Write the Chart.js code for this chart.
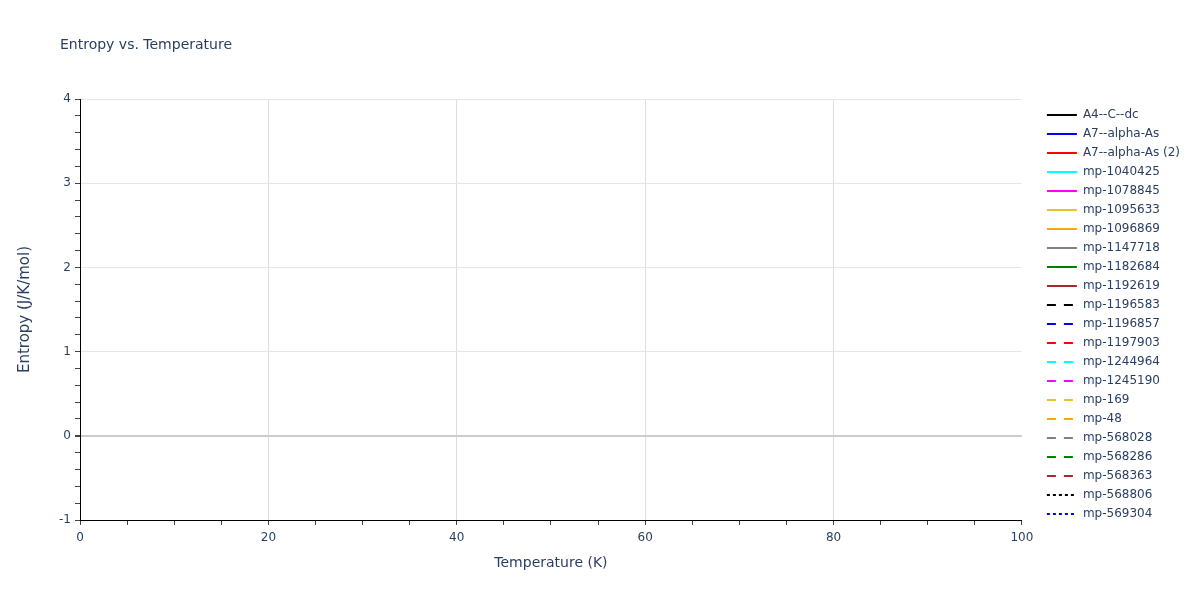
<!DOCTYPE html>
<html>
<head>
<meta charset="utf-8">
<script src="https://cdn.jsdelivr.net/npm/chart.js@4.4.1/dist/chart.umd.min.js"></script>
<style>
  html, body { margin: 0; padding: 0; background: #fff; }
  #wrap { width: 1200px; height: 600px; }
</style>
</head>
<body>
<div id="wrap"><canvas id="entropyChart"></canvas></div>
<script>
// series names, in legend order
const seriesNames = [
  'A4--C--dc', 'A7--alpha-As', 'A7--alpha-As (2)', 'mp-1040425', 'mp-1078845',
  'mp-1095633', 'mp-1096869', 'mp-1147718', 'mp-1182684', 'mp-1192619',
  'mp-1196583', 'mp-1196857', 'mp-1197903', 'mp-1244964', 'mp-1245190',
  'mp-169', 'mp-48', 'mp-568028', 'mp-568286', 'mp-568363',
  'mp-568806', 'mp-569304'
];

// nothing is plotted in the picture: every series is empty
const temperatures = [];
const entropyValues = seriesNames.map(() => []);

// axis range
const xRange = [0, 100];
const yRange = [-1, 4];

// styling
const lineColors = ['black', 'blue', 'red', 'cyan', 'magenta', '#e6c22e', 'orange', 'gray', 'green', 'brown'];
const textColor = '#2a3f5f';
const fontFamily = '"DejaVu Sans", Verdana, sans-serif';

function dashFor(i) {
  if (i < 10) return [];
  if (i < 20) return [9, 8];
  return [3, 3];
}

const datasets = seriesNames.map((name, i) => ({
  label: name,
  data: entropyValues[i].map((y, j) => ({ x: temperatures[j], y: y })),
  borderColor: lineColors[i % 10],
  backgroundColor: lineColors[i % 10],
  borderWidth: 2,
  borderDash: dashFor(i),
  pointRadius: 0,
  pointStyle: 'line'
}));

// plot title drawn at the top left, like the original
const titlePlugin = {
  id: 'topTitle',
  afterDraw(chart) {
    const ctx = chart.ctx;
    ctx.save();
    ctx.font = '14px ' + fontFamily;
    ctx.fillStyle = textColor;
    ctx.textBaseline = 'middle';
    ctx.fillText('Entropy vs. Temperature', 60, 45);
    ctx.restore();
  }
};

// move the legend a bit right of (and below the top of) the plot area
const legendShift = {
  id: 'legendShift',
  afterLayout(chart) {
    const lg = chart.legend;
    const dx = chart.chartArea.right + 25 - 7 - lg.left;
    lg.left += dx;
    lg.right += dx;
    lg.top += 3;
    lg.bottom += 3;
  }
};

const isMultiple = (v, step) => Math.abs(v / step - Math.round(v / step)) < 1e-6;

new Chart(document.getElementById('entropyChart'), {
  type: 'line',
  data: { datasets: datasets },
  plugins: [titlePlugin, legendShift],
  options: {
    responsive: true,
    maintainAspectRatio: false,
    animation: false,
    layout: { padding: { top: 99, right: 28, left: 0, bottom: 0 } },
    scales: {
      x: {
        type: 'linear',
        min: xRange[0],
        max: xRange[1],
        afterFit: (scale) => { scale.height = 80; },
        ticks: {
          stepSize: 5,
          autoSkip: false,
          maxRotation: 0,
          padding: 6,
          color: textColor,
          font: { family: fontFamily, size: 12 },
          callback: (v) => isMultiple(v, 20) ? String(v) : ''
        },
        grid: {
          color: (c) => (c.tick && isMultiple(c.tick.value, 20) && c.tick.value > 0 && c.tick.value < 100) ? '#dedede' : 'rgba(0,0,0,0)',
          tickColor: '#444',
          tickLength: 5
        },
        border: { color: '#000', width: 1 },
        title: {
          display: true,
          text: 'Temperature (K)',
          color: textColor,
          font: { family: fontFamily, size: 14 },
          padding: { top: 0, bottom: 28 }
        }
      },
      y: {
        min: yRange[0],
        max: yRange[1],
        afterFit: (scale) => { scale.width = 80; },
        ticks: {
          stepSize: 0.2,
          autoSkip: false,
          padding: 4,
          color: textColor,
          font: { family: fontFamily, size: 12 },
          callback: (v) => isMultiple(v, 1) ? String(Math.round(v)) : ''
        },
        grid: {
          color: (c) => {
            if (!c.tick) return 'rgba(0,0,0,0)';
            const v = c.tick.value;
            if (Math.abs(v) < 1e-6) return '#cccccc';
            if (isMultiple(v, 1) && v > yRange[0]) return '#e6e6e6';
            return 'rgba(0,0,0,0)';
          },
          lineWidth: (c) => (c.tick && Math.abs(c.tick.value) < 1e-6) ? 2 : 1,
          tickColor: '#444',
          tickLength: 5
        },
        border: { color: '#000', width: 1 },
        title: {
          display: true,
          text: 'Entropy (J/K/mol)',
          color: textColor,
          font: { family: fontFamily, size: 15 },
          padding: { top: 16, bottom: 0 }
        }
      }
    },
    plugins: {
      legend: {
        position: 'right',
        align: 'start',
        labels: {
          usePointStyle: true,
          pointStyleWidth: 30,
          padding: 7,
          color: textColor,
          font: { family: fontFamily, size: 12 },
          generateLabels: (chart) => Chart.defaults.plugins.legend.labels.generateLabels(chart).map((item, i) => ({
            ...item,
            pointStyle: 'line',
            lineDash: chart.data.datasets[i].borderDash,
            lineWidth: 2,
            strokeStyle: chart.data.datasets[i].borderColor
          }))
        }
      },
      tooltip: { enabled: false }
    }
  }
});
</script>
</body>
</html>
